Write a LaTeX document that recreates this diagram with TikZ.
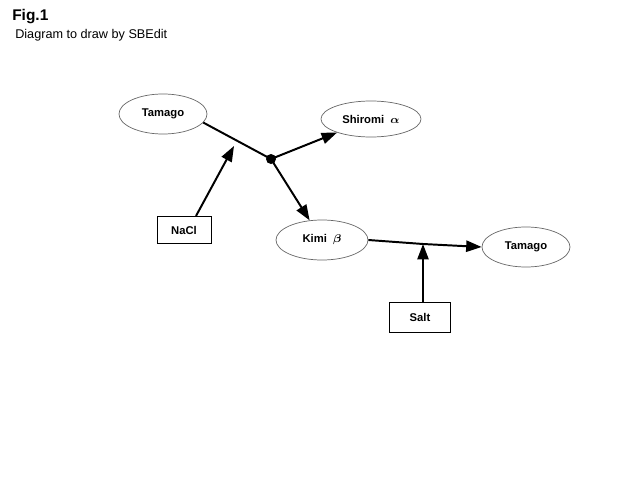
\documentclass[tikz,border=0pt]{standalone}
\usepackage{fontspec}
\usepackage{bm}
\setmainfont{Liberation Sans}
\usetikzlibrary{arrows.meta,positioning,calc,shapes}

\begin{document}
\begin{tikzpicture}[
  x=0.025cm,y=-0.025cm,
  oval/.style={ellipse,draw=black!60,line width=0.5pt,minimum width=2.2cm,minimum height=1cm,
               inner sep=0pt,font=\bfseries\fontsize{8}{9}\selectfont},
  tag/.style={rectangle,draw,line width=0.6pt,minimum width=1.35cm,minimum height=0.68cm,
              inner sep=0pt,font=\bfseries\fontsize{8}{9}\selectfont},
  flow/.style={line width=1.4pt,-{Triangle[length=11pt,width=8pt]}},
  plain/.style={line width=1.4pt}
]
  \useasboundingbox (0,0) rectangle (640,480);
  % title
  \node[anchor=base west,inner sep=0pt,font=\bfseries\fontsize{11}{13}\selectfont] (fig) at (12,20) {Fig.1};
  \node[anchor=base west,inner sep=0pt,font=\fontsize{9}{11}\selectfont] (sub) at (15,38) {Diagram to draw by SBEdit};

  % nodes
  \node[oval] (egg) at (163,114) {Tamago};
  \node[oval,minimum width=2.5cm,minimum height=0.9cm] (white) at (371,119) {Shiromi~~$\bm{\alpha}$};
  \node[oval,minimum width=2.3cm] (yolk) at (322,240) {Kimi~~$\bm{\beta}$};
  \node[oval] (egg2) at (526,247) {Tamago};
  \node[tag] (nacl) at (184,230) {NaCl};
  \node[tag,minimum width=1.52cm,minimum height=0.75cm] (salt) at (420,317) {Salt};

  \fill (271,159) circle (5) coordinate (split);
  \coordinate (mix1) at (234,146);
  \coordinate (mix2) at (423,244);

  % connectors
  \draw[plain] (egg.-12) -- (split);
  \draw[flow] (nacl.north) ++(12,0) -- (mix1);
  \draw[flow] (split) -- (white);
  \draw[flow] (split) -- (yolk);
  \draw[plain] (yolk.east) -- (mix2);
  \draw[flow] (mix2) -- (egg2.west);
  \draw[flow] (salt.north) ++(3,0) -- (mix2);
\end{tikzpicture}
\end{document}
